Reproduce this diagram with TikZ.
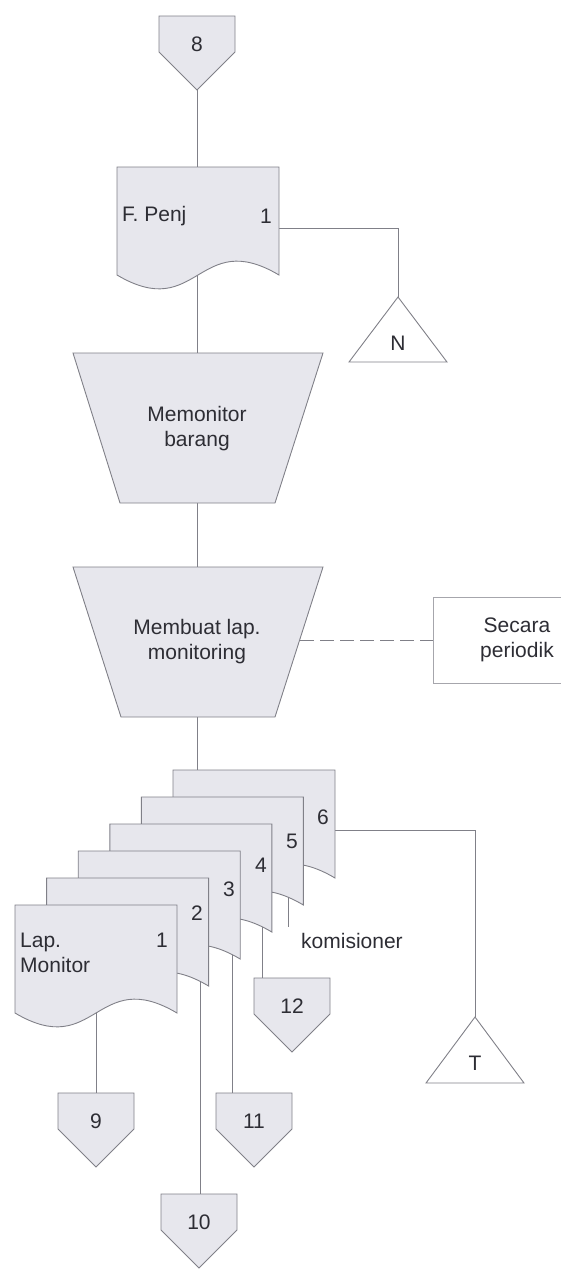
\documentclass[tikz,border=0pt]{standalone}
\usepackage{fontspec}
\setmainfont{Liberation Sans}
\pgfdeclarelayer{links}
\pgfsetlayers{links,main}
\definecolor{shadefill}{RGB}{231,231,237}
\definecolor{edge}{RGB}{128,128,136}
\definecolor{ink}{RGB}{45,45,52}

% document symbol: left x, top y (162 x 108, wavy bottom)
\newcommand{\docshape}[2]{%
  \filldraw[shapeline] (#1,#2) -- ({#1+162},#2) -- ({#1+162},{#2+108})
    .. controls ({#1+81},{#2+60}) and ({#1+81},{#2+156}) .. (#1,{#2+108}) -- cycle;}

% off-page connector: name, centre x, top y, label
\newcommand{\offpage}[4]{%
  \filldraw[shapeline] ({#2-38},#3) -- ({#2+38},#3) -- ({#2+38},{#3+36})
    -- (#2,{#3+74}) -- ({#2-38},{#3+36}) -- cycle;
  \node[txt] (#1) at (#2,{#3+28}) {#4};
  \coordinate (#1-top) at (#2,#3);
  \coordinate (#1-tip) at (#2,{#3+74});}

\begin{document}
\begin{tikzpicture}[x=1pt,y=-1pt,
  shapeline/.style={draw=edge, line width=0.9pt, fill=shadefill, line join=miter},
  triline/.style={draw=edge, line width=0.9pt, fill=white},
  link/.style={draw=edge, line width=0.9pt},
  txt/.style={font=\fontsize{21}{25}\selectfont, text=ink, inner sep=0pt, align=center}]
\useasboundingbox (0,0) rectangle (561,1269);

% incoming connector
\offpage{c8}{197}{16}{8}

% sales form
\docshape{117}{167}
\node[txt, anchor=west] (fpenj) at (122,216) {F. Penj};
\node[txt] (fpenj-no) at (266,216) {1};
\coordinate (fpenj-top) at (197,167);
\coordinate (fpenj-bot) at (197,275);
\coordinate (fpenj-right) at (279,228);

% file N
\filldraw[triline] (398,297) -- (447,362) -- (349,362) -- cycle;
\node[txt] (fileN) at (398,343) {N};
\coordinate (fileN-apex) at (398,297);

% manual operation: monitoring goods
\filldraw[shapeline] (73,353) -- (323,353) -- (275,503) -- (120,503) -- cycle;
\node[txt] (monitor) at (197,429) {Memonitor\\barang};
\coordinate (monitor-top) at (197,353);
\coordinate (monitor-bot) at (197,503);

% manual operation: monitoring report
\filldraw[shapeline] (73,567) -- (323,567) -- (275,717) -- (121,717) -- cycle;
\node[txt] (report) at (197,642) {Membuat lap.\\monitoring};
\coordinate (report-top) at (197,567);
\coordinate (report-bot) at (197,717);
\coordinate (report-right) at (300,640);

% annotation box
\draw[draw=edge!70, line width=0.9pt] (570,597) -- (433,597) -- (433,683) -- (570,683);
\node[txt] (periodic) at (517,640) {Secara\\periodik};
\coordinate (periodic-left) at (433,640);

% report copies, back to front
\docshape{173}{770}
\node[txt] (copy6) at (323,817) {6};
\docshape{141.4}{797}
\node[txt] (copy5) at (292,841) {5};
\docshape{109.8}{824}
\node[txt] (copy4) at (261,865) {4};
\docshape{78.2}{851}
\node[txt] (copy3) at (229,889) {3};
\docshape{46.6}{878}
\node[txt] (copy2) at (197,913) {2};
\docshape{15}{905}
\node[txt] (copy1) at (162,940) {1};
\node[txt, anchor=west, align=left] (lapmon) at (20,953) {Lap.\\Monitor};
\node[txt, anchor=west] (komisioner) at (301,941) {komisioner};

\coordinate (copy6-top) at (197,770);
\coordinate (copy6-right) at (335,830);
\coordinate (copy5-out) at (288,880);
\coordinate (komisioner-end) at (288,927);
\coordinate (copy4-out) at (262,900);
\coordinate (copy3-out) at (232,930);
\coordinate (copy2-out) at (200,960);
\coordinate (copy1-out) at (96,1000);

% outgoing connectors
\offpage{c12}{292}{978}{12}
\offpage{c9}{96}{1093}{9}
\offpage{c11}{254}{1093}{11}
\offpage{c10}{199}{1194}{10}

% file T
\filldraw[triline] (475,1017) -- (524,1083) -- (426,1083) -- cycle;
\node[txt] (fileT) at (475,1063) {T};
\coordinate (fileT-apex) at (475,1017);

% connecting lines
\begin{pgfonlayer}{links}
\draw[link] (c8-tip) -- (fpenj-top);
\draw[link] (fpenj-bot) -- (monitor-top);
\draw[link] (fpenj-right) -| (fileN-apex);
\draw[link] (monitor-bot) -- (report-top);
\draw[link, dashed, dash pattern=on 14pt off 6pt] (report-right) -- (periodic-left);
\draw[link] (report-bot) -- (copy6-top);
\draw[link] (copy6-right) -| (fileT-apex);
\draw[link] (copy5-out) -- (komisioner-end);
\draw[link] (copy4-out) -- (copy4-out |- c12-top);
\draw[link] (copy3-out) -- (copy3-out |- c11-top);
\draw[link] (copy2-out) -- (copy2-out |- c10-top);
\draw[link] (copy1-out) -- (c9-top);
\end{pgfonlayer}
\end{tikzpicture}
\end{document}
